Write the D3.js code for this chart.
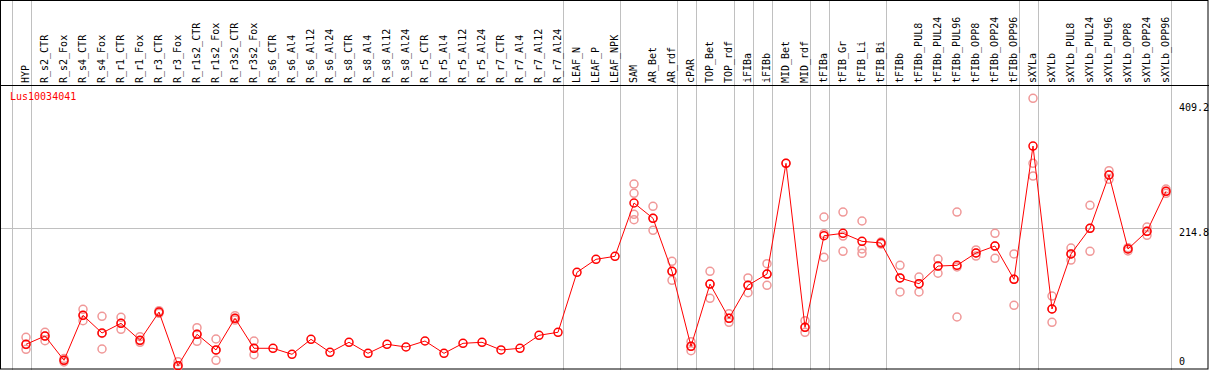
<!DOCTYPE html>
<html><head><meta charset="utf-8">
<script src="https://cdn.jsdelivr.net/npm/d3@7"></script>
<style>body{margin:0;background:#fff}svg{display:block}</style>
</head><body>
<svg id="c" width="1209" height="370"></svg>
<script>
const title = "Lus10034041";
const categories = ["HYP","R_s2_CTR","R_s2_Fox","R_s4_CTR","R_s4_Fox","R_r1_CTR","R_r1_Fox","R_r3_CTR","R_r3_Fox","R_r1s2_CTR","R_r1s2_Fox","R_r3s2_CTR","R_r3s2_Fox","R_s6_CTR","R_s6_Al4","R_s6_Al12","R_s6_Al24","R_s8_CTR","R_s8_Al4","R_s8_Al12","R_s8_Al24","R_r5_CTR","R_r5_Al4","R_r5_Al12","R_r5_Al24","R_r7_CTR","R_r7_Al4","R_r7_Al12","R_r7_Al24","LEAF_N","LEAF_P","LEAF_NPK","SAM","AR_Bet","AR_rdf","cPAR","TOP_Bet","TOP_rdf","iFIBa","iFIBb","MID_Bet","MID_rdf","tFIBa","tFIB_Gr","tFIB_Li","tFIB_Bi","tFIBb","tFIBb_PUL8","tFIBb_PUL24","tFIBb_PUL96","tFIBb_OPP8","tFIBb_OPP24","tFIBb_OPP96","sXYLa","sXYLb","sXYLb_PUL8","sXYLb_PUL24","sXYLb_PUL96","sXYLb_OPP8","sXYLb_OPP24","sXYLb_OPP96"];
const means = [35.2,48.0,10.4,80.1,52.7,67.7,41.4,85.2,2.0,50.7,26.4,75.5,29.0,29.0,19.7,42.9,22.8,38.3,21.2,35.2,31.0,40.3,21.2,36.7,38.3,26.4,29.0,49.1,53.8,146.8,166.9,171.6,254.2,230.5,148.3,32.1,128.6,75.5,126.6,144.1,315.7,61.5,203.5,207.2,194.8,192.2,138.0,129.1,156.5,157.6,176.7,187.5,135.9,342.5,89.9,175.2,215.0,297.6,182.9,210.3,272.3];
const replicates = [
 [46.0,35.0,27.4],[53.8,48.0,40.8],[13.2,10.4,7.8],[89.4,80.0,71.8],[78.6,52.0,27.9],[77.0,67.7,58.4],[47.0,41.0,38.3],[87.3,85.2,83.2],[8.2,2.0,0.5],[60.9,50.7,39.8],[43.4,26.0,10.4],[79.5,75.5,72.8],[40.3,29.0,19.1],
 [],[],[],[],[],[],[],[],[],[],[],[],[],[],[],[],
 [],[],[],
 [283.6,269.2,236.7,228.3],[249.1,230.5,211.9],[163.8,148.3,134.4],[39.2,32.1,25.3],[148.3,128.6,106.5],[82.6,75.5,69.3],[138.0,126.6,115.2],[160.1,144.1,126.6],[315.7],[71.8,61.5,53.8],
 [232.5,206.6,170.0],[240.2,203.0,179.3],[226.3,182.9,176.2],[193.7,192.2,190.6],[157.6,138.0,116.3],[139.5,129.1,116.3],[167.4,156.5,145.3],[240.2,155.0,77.5],[181.4,176.7,172.0],[207.2,187.5,168.5],[175.2,135.9,95.6],
 [416.5,315.7,296.0],[110.0,89.9,69.3],[184.4,175.2,165.8],[250.6,215.0,179.3],[304.3,297.6,290.9],[184.9,182.9,179.8],[217.0,210.3,204.1],[275.9,272.3,269.2]
];
const groupStarts = ["HYP","R_s2_CTR","LEAF_N","SAM","cPAR","TOP_Bet","iFIBa","iFIBb","MID_Bet","tFIBa","tFIB_Gr","tFIBb","sXYLa","sXYLb"];
const yTicks = [409.2, 214.8, 0];
const gridValues = [214.8];

const svg = d3.select("#c");
const W = 1209, H = 370;
const x = d3.scalePoint().domain(categories).range([26, 1166]);
const step = x.step();
const y = d3.scaleLinear().domain([0, 409.2]).range([367, 103]);
const plotRight = x(categories[categories.length-1]) + step*0.25;
const font = "'DejaVu Sans Mono', monospace";

// group separators
const sepX = groupStarts.map(g => x(g) - step*0.75).concat([plotRight]);
svg.append("g").selectAll("line").data(sepX).join("line")
  .attr("x1", d => Math.round(d)+0.5).attr("x2", d => Math.round(d)+0.5)
  .attr("y1", 0).attr("y2", H)
  .attr("stroke", "#c0c0c0").attr("stroke-width", 1);

// horizontal grid
svg.append("g").selectAll("line").data(gridValues).join("line")
  .attr("x1", 0).attr("x2", Math.round(plotRight)+0.5)
  .attr("y1", d => Math.round(y(d))+0.5).attr("y2", d => Math.round(y(d))+0.5)
  .attr("stroke", "#c0c0c0").attr("stroke-width", 1);

// borders
svg.append("rect").attr("x", 0.5).attr("y", 0.5).attr("width", W-1.5).attr("height", H-1.5)
  .attr("fill", "none").attr("stroke", "#000").attr("stroke-width", 1);
svg.append("line").attr("x1", 0).attr("x2", W).attr("y1", 85.5).attr("y2", 85.5)
  .attr("stroke", "#000").attr("stroke-width", 1);

// category labels
svg.append("g").selectAll("text").data(categories).join("text")
  .attr("transform", d => `translate(${Math.round(x(d)) + 3},83) rotate(-90)`)
  .attr("font-family", font).attr("font-size", 10).attr("fill", "#000")
  .text(d => d);

// title
svg.append("text").attr("x", 10).attr("y", 100)
  .attr("font-family", font).attr("font-size", 10).attr("fill", "#f00").text(title);

// right axis labels
svg.append("g").selectAll("text").data(yTicks).join("text")
  .attr("x", 1179).attr("y", d => Math.round(Math.min(y(d) + 8, 365)))
  .attr("font-family", font).attr("font-size", 10).attr("fill", "#000")
  .text(d => d);

// replicates
const reps = [];
categories.forEach((c, i) => replicates[i].forEach(v => reps.push({c, v})));
svg.append("g").selectAll("circle").data(reps).join("circle")
  .attr("cx", d => x(d.c)).attr("cy", d => y(d.v)).attr("r", 4)
  .attr("fill", "none").attr("stroke", "#f09898").attr("stroke-width", 1.5);

// mean line
const pts = categories.map((c, i) => ({c, v: means[i]}));
svg.append("path").datum(pts)
  .attr("d", d3.line().x(d => x(d.c)).y(d => y(d.v)))
  .attr("fill", "none").attr("stroke", "#f00").attr("stroke-width", 1);
svg.append("g").selectAll("circle").data(pts).join("circle")
  .attr("cx", d => x(d.c)).attr("cy", d => y(d.v)).attr("r", 4)
  .attr("fill", "none").attr("stroke", "#f00").attr("stroke-width", 1.5);
</script>
</body></html>
